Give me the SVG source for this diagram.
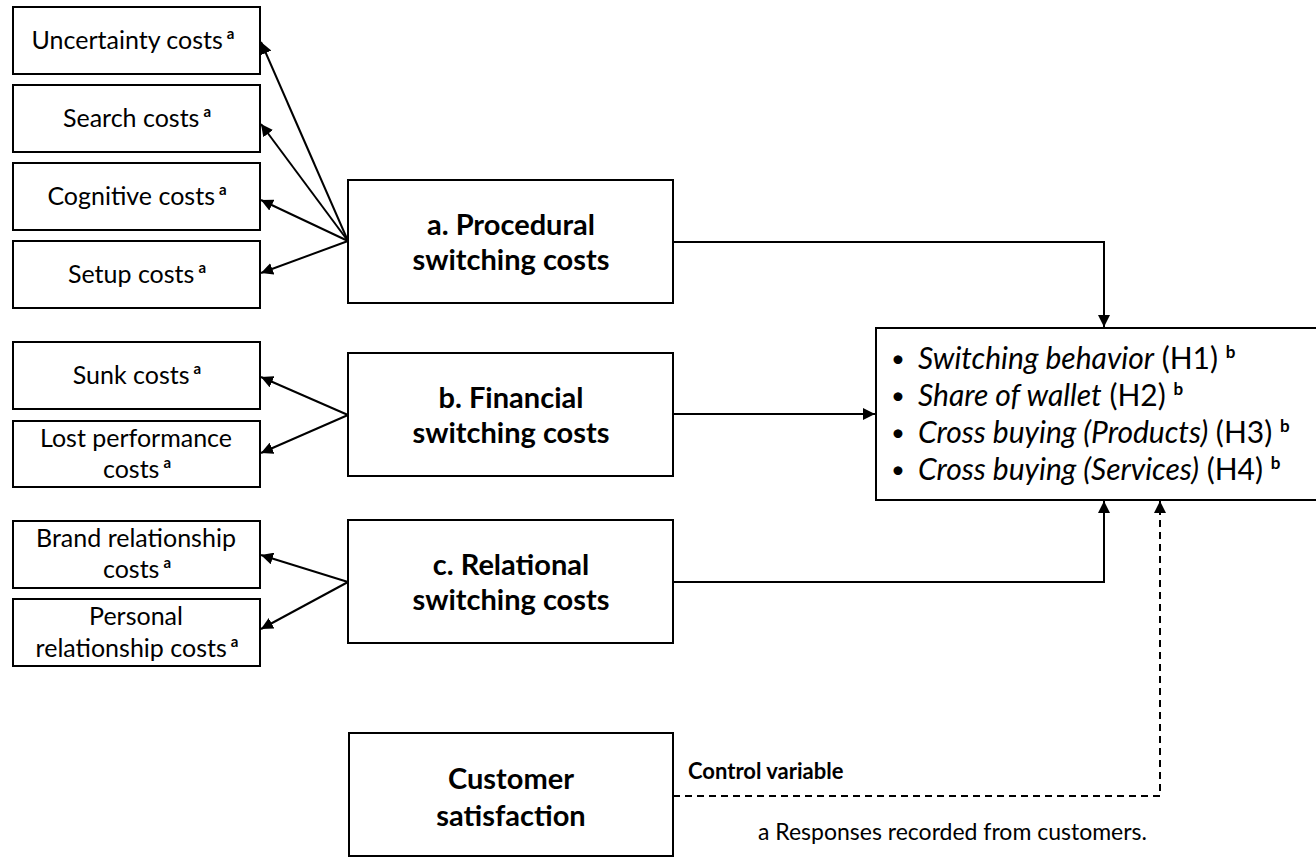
<svg xmlns="http://www.w3.org/2000/svg" width="1316" height="858" viewBox="0 0 1316 858">
<style>
.box{fill:#fff;stroke:#000;stroke-width:2}
.t{font-family:Lato,"Open Sans","Liberation Sans",sans-serif;font-size:25px;fill:#000;text-anchor:middle}
.b{font-weight:bold;font-size:29px}
.sup{font-weight:bold;font-size:15px}
.r{font-family:Lato,"Open Sans","Liberation Sans",sans-serif;font-size:30px;fill:#000}
.bul{font-family:Lato,"Open Sans","Liberation Sans",sans-serif;font-size:24px;fill:#000}
.i{font-style:italic}
.supb{font-weight:bold;font-size:17px}
.conn{stroke:#000;stroke-width:2;fill:none}
.dash{stroke-dasharray:7,5}
</style>
<defs>
<marker id="ah" viewBox="0 0 10 10" refX="10" refY="5" markerWidth="6" markerHeight="6" orient="auto" markerUnits="strokeWidth">
<path d="M0,0 L10,5 L0,10 z" fill="#000"/>
</marker>
</defs>
<rect width="1316" height="858" fill="#fff"/>

<g id="connectors">
<line class="conn" x1="348" y1="241" x2="261" y2="42" marker-end="url(#ah)"/>
<line class="conn" x1="348" y1="241" x2="261" y2="124" marker-end="url(#ah)"/>
<line class="conn" x1="348" y1="241" x2="261" y2="200" marker-end="url(#ah)"/>
<line class="conn" x1="348" y1="241" x2="261" y2="273" marker-end="url(#ah)"/>
<line class="conn" x1="348" y1="415" x2="261" y2="377" marker-end="url(#ah)"/>
<line class="conn" x1="348" y1="415" x2="261" y2="453" marker-end="url(#ah)"/>
<line class="conn" x1="348" y1="582" x2="261" y2="555" marker-end="url(#ah)"/>
<line class="conn" x1="348" y1="582" x2="261" y2="629" marker-end="url(#ah)"/>
<polyline class="conn" points="673,242 1104,242 1104,327" marker-end="url(#ah)"/>
<line class="conn" x1="673" y1="414" x2="875" y2="414" marker-end="url(#ah)"/>
<polyline class="conn" points="673,582 1104,582 1104,501" marker-end="url(#ah)"/>
<polyline class="conn dash" points="673,796 1160,796 1160,501" marker-end="url(#ah)"/>
</g>

<g id="n-uncertainty"><rect class="box" x="13" y="7" width="247" height="67"/>
<text class="t" x="133" y="49">Uncertainty costs<tspan class="sup" dx="4" dy="-10">a</tspan></text></g>
<g id="n-search"><rect class="box" x="13" y="85" width="247" height="67"/>
<text class="t" x="137" y="127">Search costs<tspan class="sup" dx="4" dy="-10">a</tspan></text></g>
<g id="n-cognitive"><rect class="box" x="13" y="163" width="247" height="67"/>
<text class="t" x="137" y="205">Cognitive costs<tspan class="sup" dx="4" dy="-10">a</tspan></text></g>
<g id="n-setup"><rect class="box" x="13" y="241" width="247" height="67"/>
<text class="t" x="137" y="283">Setup costs<tspan class="sup" dx="4" dy="-10">a</tspan></text></g>
<g id="n-sunk"><rect class="box" x="13" y="342" width="247" height="67"/>
<text class="t" x="137" y="384">Sunk costs<tspan class="sup" dx="4" dy="-10">a</tspan></text></g>
<g id="n-lost"><rect class="box" x="13" y="421" width="247" height="66"/>
<text class="t" x="136" y="447">Lost performance</text>
<text class="t" x="137" y="478">costs<tspan class="sup" dx="4" dy="-10">a</tspan></text></g>
<g id="n-brand"><rect class="box" x="13" y="521" width="247" height="67"/>
<text class="t" x="136" y="547">Brand relationship</text>
<text class="t" x="137" y="578">costs<tspan class="sup" dx="4" dy="-10">a</tspan></text></g>
<g id="n-personal"><rect class="box" x="13" y="599" width="247" height="67"/>
<text class="t" x="136" y="625">Personal</text>
<text class="t" x="137" y="657">relationship costs<tspan class="sup" dx="4" dy="-10">a</tspan></text></g>

<g id="n-procedural"><rect class="box" x="348" y="180" width="325" height="123"/>
<text class="t b" x="511" y="235">a. Procedural</text>
<text class="t b" x="511" y="270">switching costs</text></g>
<g id="n-financial"><rect class="box" x="348" y="353" width="325" height="123"/>
<text class="t b" x="511" y="408">b. Financial</text>
<text class="t b" x="511" y="443">switching costs</text></g>
<g id="n-relational"><rect class="box" x="348" y="520" width="325" height="123"/>
<text class="t b" x="511" y="575">c. Relational</text>
<text class="t b" x="511" y="610">switching costs</text></g>
<g id="n-customer"><rect class="box" x="349" y="733" width="324" height="123"/>
<text class="t b" x="511" y="789">Customer</text>
<text class="t b" x="511" y="826">satisfaction</text></g>

<g id="n-outcomes"><rect class="box" x="876" y="328" width="450" height="172"/>
<text class="bul" x="891" y="367">•</text>
<text class="r" x="918" y="369"><tspan class="i">Switching behavior</tspan> (H1) <tspan class="supb" dy="-11">b</tspan></text>
<text class="bul" x="891" y="404">•</text>
<text class="r" x="918" y="406"><tspan class="i">Share of wallet</tspan> (H2) <tspan class="supb" dy="-11">b</tspan></text>
<text class="bul" x="891" y="441">•</text>
<text class="r" x="918" y="443"><tspan class="i">Cross buying (Products)</tspan> (H3) <tspan class="supb" dy="-11">b</tspan></text>
<text class="bul" x="891" y="478">•</text>
<text class="r" x="918" y="480"><tspan class="i">Cross buying (Services)</tspan> (H4) <tspan class="supb" dy="-11">b</tspan></text></g>

<g id="labels">
<text class="r" x="688" y="779" style="font-weight:bold;font-size:22px">Control variable</text>
<text class="r" x="758" y="840" style="font-size:23px">a Responses recorded from customers.</text>
</g>
</svg>
